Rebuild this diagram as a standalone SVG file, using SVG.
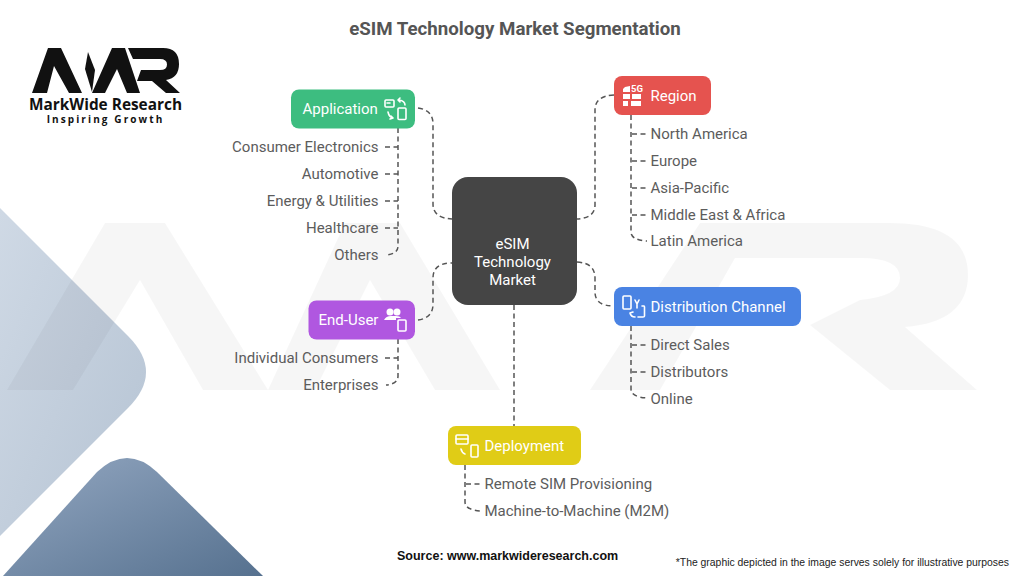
<svg xmlns="http://www.w3.org/2000/svg" width="1024" height="576" viewBox="0 0 1024 576">
<style>
.lbl{font:15px Roboto,"Liberation Sans",sans-serif;fill:#5c5c5c}
.hd{font:15px Roboto,"Liberation Sans",sans-serif;fill:#fff}
.dash{fill:none;stroke:#555;stroke-width:1.5;stroke-dasharray:5 3.500}
.ic{fill:none;stroke:#fff;stroke-width:1.6;stroke-linejoin:round;stroke-linecap:round}
.icf{fill:#fff}
.e{text-anchor:end}
</style>
<defs>
<linearGradient id="g1" x1="0" y1="0" x2="1" y2="1"><stop offset="0" stop-color="#cfd9e5"/><stop offset="1" stop-color="#b5c3d3"/></linearGradient>
<linearGradient id="g2" x1="0" y1="0" x2="1" y2="1"><stop offset="0" stop-color="#93a7c1"/><stop offset="1" stop-color="#56718f"/></linearGradient>
</defs>
<rect width="1024" height="576" fill="#fff"/>
<path id="bg-light" d="M0,208 L128,336 Q164,372 128,408 L0,536 Z" fill="url(#g1)"/>
<path id="bg-dark" d="M3,576 L97,472 Q127,444 157,472 L263,576 Z" fill="url(#g2)"/>
<g id="watermark" fill="#000" fill-opacity=".035">
<polygon points="7,390 105,223 165,223 268,390 203,390 140,280 73,390"/>
<polygon points="268,390 345,223 400,223 500,390 435,390 370,280 315,390"/>
<path d="M590,390 L700,223 L890,223 Q968,223 968,275 Q968,322 905,327 L977,390 L890,390 L810,325 L860,300 Q900,296 900,278 Q900,258 860,258 L735,258 L660,390 Z"/>
</g>
<text x="515" y="35" text-anchor="middle" style="font:bold 18.700px Roboto,'Liberation Sans',sans-serif;fill:#555">eSIM Technology Market Segmentation</text>
<g id="logo">
<polygon points="32,93 48,48 61,48 82,93 69,93 54,66 47,93" fill="#111"/>
<polygon points="88,52 95,70 92,92 85,69" fill="#111"/>
<polygon points="92,93 112,48 125,48 140,93 127,93 117,69 105,93" fill="#111"/>
<path d="M128,48 H163 Q179,48 179,64 Q179,78 166,80 L180,93 H166 L152,81 H137 L141,70 H160 Q167,70 167,64.500 Q167,59 160,59 H133 Z" fill="#111"/>
<text x="105.500" y="110" text-anchor="middle" style="font:bold 15.400px 'Open Sans','Liberation Sans',sans-serif;fill:#111">MarkWide Research</text>
<text x="105.500" y="122.500" text-anchor="middle" style="font:bold 10px 'Open Sans','Liberation Sans',sans-serif;letter-spacing:2.100px;fill:#111">Inspiring Growth</text>
</g>
<g id="connectors">
<path class="dash" d="M418,108 Q433,110 433,124 V204 Q433,218 452,219"/>
<path class="dash" d="M614,95 Q595,96 595,110 V205 Q595,218 577,219"/>
<path class="dash" d="M577,262 Q595,263 595,278 V292 Q595,306 614,306"/>
<path class="dash" d="M418,320 Q433,318 433,304 V278 Q433,263 452,263"/>
<path class="dash" d="M514,305 V426"/>
<path class="dash" d="M398,128 V246 Q398,254 386,255"/>
<path class="dash" d="M385,147 H398 M385,174 H398 M385,201 H398 M385,228 H398"/>
<path class="dash" d="M631,115 V232 Q631,240 647,241"/>
<path class="dash" d="M632,134 H646 M632,161 H646 M632,188 H646 M632,215 H646"/>
<path class="dash" d="M631,326 V389 Q631,397 647,398"/>
<path class="dash" d="M632,345 H646 M632,372 H646"/>
<path class="dash" d="M398,339 V376 Q398,384 386,385"/>
<path class="dash" d="M385,358 H398"/>
<path class="dash" d="M465,465 V502 Q465,510 481,511"/>
<path class="dash" d="M466,484 H480"/>
</g>
<g id="center">
<rect x="452" y="177" width="125" height="128" rx="16" fill="#454545"/>
<text class="hd" x="512.500" y="249" text-anchor="middle">eSIM</text>
<text class="hd" x="512.500" y="267" text-anchor="middle">Technology</text>
<text class="hd" x="512.500" y="285" text-anchor="middle">Market</text>
</g>
<g id="application">
<rect x="291" y="89.500" width="124" height="39" rx="8" fill="#3dbd80"/>
<text class="hd" x="302.500" y="114">Application</text>
<rect class="ic" x="385" y="100" width="9" height="7" rx="1"/><path class="ic" d="M387,103 H390 M399,100 Q405,101 405,105 M398,100 L400,98 M398,100 L400,102 M388,112 Q389,117 393,118 M393,118 L391,116 M393,118 L390,119"/><rect class="ic" x="398" y="108" width="8" height="11.500" rx="1"/>
</g>
<g id="region">
<rect x="614" y="76" width="97" height="39" rx="8" fill="#e5534f"/>
<path class="icf" d="M625,87 L630,86 V92 H623 V89 Z M623,94 H630 V99 H623 Z M632,94 H641 V99 H632 Z M623,101 H628 V106 H623 Z M631,101 H641 V106 H631 Z"/>
<text x="631" y="92" style="font:bold 9.500px Roboto,'Liberation Sans',sans-serif;fill:#fff">5G</text>
<text class="hd" x="650.500" y="101">Region</text>
</g>
<g id="distribution">
<rect x="614" y="287" width="187" height="39" rx="8" fill="#4a83e3"/>
<rect class="ic" x="623" y="296" width="8" height="13" rx="1"/><path class="ic" d="M635,300 L637,304 L639,300 M637,304 V308 M630,313 Q631,317 635,317 M630,313 L633,312 M642,306 H644 Q644.500,306 644.500,307 V316 Q644.500,317 643,317 H638"/>
<text class="hd" x="650.500" y="312">Distribution Channel</text>
</g>
<g id="end-user">
<rect x="308.500" y="300.500" width="106.500" height="39" rx="8" fill="#b057e0"/>
<text class="hd" x="318.500" y="325">End-User</text>
<circle class="icf" cx="390" cy="312" r="3.500"/><circle class="icf" cx="397" cy="312" r="3.500"/><path class="icf" d="M384,320 Q386,316 391,316 L396,316 Q400,316 401,318 H396 V320 Z"/>
<rect class="ic" x="398" y="320" width="8" height="11" rx="1"/>
</g>
<g id="deployment">
<rect x="448" y="426" width="133" height="39" rx="8" fill="#e0cc16"/>
<rect class="ic" x="456" y="435" width="12" height="9" rx="1"/><path class="ic" d="M456,439 H468 M461,449 Q462,453 465,454"/><rect class="ic" x="471" y="445" width="7" height="12" rx="1"/>
<text class="hd" x="484.500" y="451">Deployment</text>
</g>
<g id="labels">
<text class="lbl e" x="378.500" y="152">Consumer Electronics</text>
<text class="lbl e" x="378.500" y="179">Automotive</text>
<text class="lbl e" x="378.500" y="206">Energy &amp; Utilities</text>
<text class="lbl e" x="378.500" y="233">Healthcare</text>
<text class="lbl e" x="378.500" y="260">Others</text>
<text class="lbl" x="650.500" y="139">North America</text>
<text class="lbl" x="650.500" y="166">Europe</text>
<text class="lbl" x="650.500" y="193">Asia-Pacific</text>
<text class="lbl" x="650.500" y="220">Middle East &amp; Africa</text>
<text class="lbl" x="650.500" y="246">Latin America</text>
<text class="lbl" x="650.500" y="350">Direct Sales</text>
<text class="lbl" x="650.500" y="377">Distributors</text>
<text class="lbl" x="650.500" y="404">Online</text>
<text class="lbl e" x="378.500" y="363">Individual Consumers</text>
<text class="lbl e" x="378.500" y="390">Enterprises</text>
<text class="lbl" x="484.500" y="489">Remote SIM Provisioning</text>
<text class="lbl" x="484.500" y="516">Machine-to-Machine (M2M)</text>
</g>
<text x="397" y="560" style="font:bold 12.500px 'Liberation Sans',sans-serif;fill:#111">Source: www.markwideresearch.com</text>
<text x="1009" y="566" text-anchor="end" style="font:10.400px 'Liberation Sans',sans-serif;fill:#222">*The graphic depicted in the image serves solely for illustrative purposes</text>
</svg>
